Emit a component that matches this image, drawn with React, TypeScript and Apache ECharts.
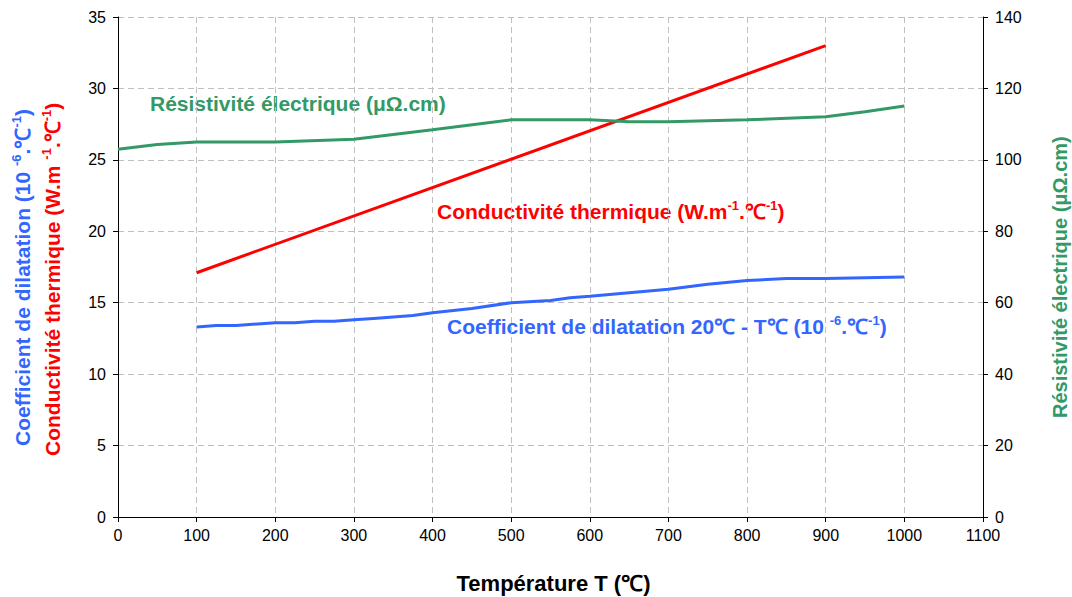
import React, { useEffect, useRef } from "react";
import * as echarts from "echarts";

const xTicks = [0, 100, 200, 300, 400, 500, 600, 700, 800, 900, 1000, 1100];
const dilatationX = [100, 125, 150, 200, 225, 250, 275, 300, 325, 350, 375, 400, 450, 500, 550, 575, 600, 650, 700, 750, 800, 850, 900, 1000];
const dilatationY = [13.3, 13.4, 13.4, 13.6, 13.6, 13.7, 13.7, 13.8, 13.9, 14.0, 14.1, 14.3, 14.6, 15.0, 15.15, 15.35, 15.45, 15.7, 15.95, 16.3, 16.55, 16.7, 16.7, 16.8];
const conductX = [100, 900];
const conductY = [17.1, 33.0];
const resistX = [0, 50, 100, 200, 300, 400, 500, 600, 650, 700, 800, 900, 950, 1000];
const resistY = [103, 104.3, 105, 105, 105.8, 108.4, 111.2, 111.2, 110.7, 110.7, 111.2, 112.1, 113.5, 115.1];

const BLUE = "#3366FF";
const RED = "#FF0000";
const GREEN = "#339966";
const FONT = "Liberation Sans, Arial, sans-serif";

const pair = (xs: number[], ys: number[]) => xs.map((x, i) => [x, ys[i]]);

export default function App() {
  const ref = useRef<HTMLDivElement>(null);
  useEffect(() => {
    if (!ref.current) return;
    const chart = echarts.init(ref.current, undefined, { renderer: "svg" });
    const gridLine = { show: true, lineStyle: { color: "#BFBFBF", type: [6, 4] as any, width: 1 } };
    const axisLine = { show: true, onZero: false, lineStyle: { color: "#000", width: 1 } };
    const tick = { show: true, inside: false, length: 5, lineStyle: { color: "#000" } };
    const label = { color: "#000", fontSize: 16, fontFamily: FONT, formatter: (v: number) => String(v) };
    const FS = 21;
    const sup = (c: string) => ({ fontSize: 13, fill: c, fontWeight: "bold" as any, fontFamily: FONT, verticalAlign: "top" as any, lineHeight: 14 });
    const base = (c: string) => ({ fontSize: FS, fill: c, fontWeight: "bold" as any, fontFamily: FONT, lineHeight: 24 });
    chart.setOption({
      animation: false,
      backgroundColor: "#fff",
      grid: { left: 118, right: 89, top: 17, bottom: 80, containLabel: false, outerBoundsMode: "none" },
      xAxis: {
        type: "value",
        min: 0,
        max: 1100,
        interval: 100,
        axisLine,
        axisTick: tick,
        axisLabel: { ...label, margin: 10 },
        splitLine: gridLine,
        name: "Température T (℃)",
        nameLocation: "middle",
        nameGap: 55,
        nameTextStyle: { color: "#000", fontSize: 22, fontWeight: "bold", fontFamily: FONT, padding: [0, 0, 0, 6] },
      },
      yAxis: [
        {
          type: "value",
          min: 0,
          max: 35,
          interval: 5,
          position: "left",
          axisLine,
          axisTick: tick,
          axisLabel: { ...label, margin: 12 },
          splitLine: gridLine,
        },
        {
          type: "value",
          min: 0,
          max: 140,
          interval: 20,
          position: "right",
          axisLine,
          axisTick: tick,
          axisLabel: { ...label, margin: 12 },
          splitLine: { show: false },
        },
      ],
      series: [
        {
          type: "line",
          data: pair(dilatationX, dilatationY),
          yAxisIndex: 0,
          showSymbol: false,
          lineStyle: { color: BLUE, width: 3 },
          itemStyle: { color: BLUE },
        },
        {
          type: "line",
          data: pair(conductX, conductY),
          yAxisIndex: 0,
          showSymbol: false,
          lineStyle: { color: RED, width: 3 },
          itemStyle: { color: RED },
        },
        {
          type: "line",
          data: pair(resistX, resistY),
          yAxisIndex: 1,
          showSymbol: false,
          lineStyle: { color: GREEN, width: 3 },
          itemStyle: { color: GREEN },
        },
      ],
      graphic: [
        {
          type: "text",
          x: 150,
          y: 93,
          style: { text: "Résistivité électrique (μΩ.cm)", fill: GREEN, font: `bold ${FS}px ${FONT}` },
        },
        {
          type: "text",
          x: 437,
          y: 199,
          style: {
            text: "{a|Conductivité thermique (W.m}{s|-1}{a|.℃}{s|-1}{a|)}",
            rich: { a: base(RED), s: sup(RED) },
          },
        },
        {
          type: "text",
          x: 447,
          y: 314,
          style: {
            text: "{a|Coefficient de dilatation 20℃ - T℃ (10\u00a0}{s|-6}{a|.℃}{s|-1}{a|)}",
            rich: { a: base(BLUE), s: sup(BLUE) },
          },
        },
        {
          type: "text",
          x: 10,
          y: 446,
          rotation: Math.PI / 2,
          style: {
            text: "{a|Coefficient de dilatation (10\u00a0}{s|-6}{a|.℃}{s|-1}{a|)}",
            rich: { a: base(BLUE), s: sup(BLUE) },
          },
        },
        {
          type: "text",
          x: 40,
          y: 456,
          rotation: Math.PI / 2,
          style: {
            text: "{a|Conductivité thermique (W.m\u00a0}{s|-1}{a|.℃}{s|-1}{a|)}",
            rich: { a: base(RED), s: sup(RED) },
          },
        },
        {
          type: "text",
          x: 1050,
          y: 418,
          rotation: Math.PI / 2,
          style: { text: "Résistivité électrique (μΩ.cm)", fill: GREEN, font: `bold 20px ${FONT}` },
        },
      ],
    });
    return () => chart.dispose();
  }, []);
  return <div ref={ref} style={{ width: 1072, height: 597, position: "absolute", left: 0, top: 0 }} />;
}
